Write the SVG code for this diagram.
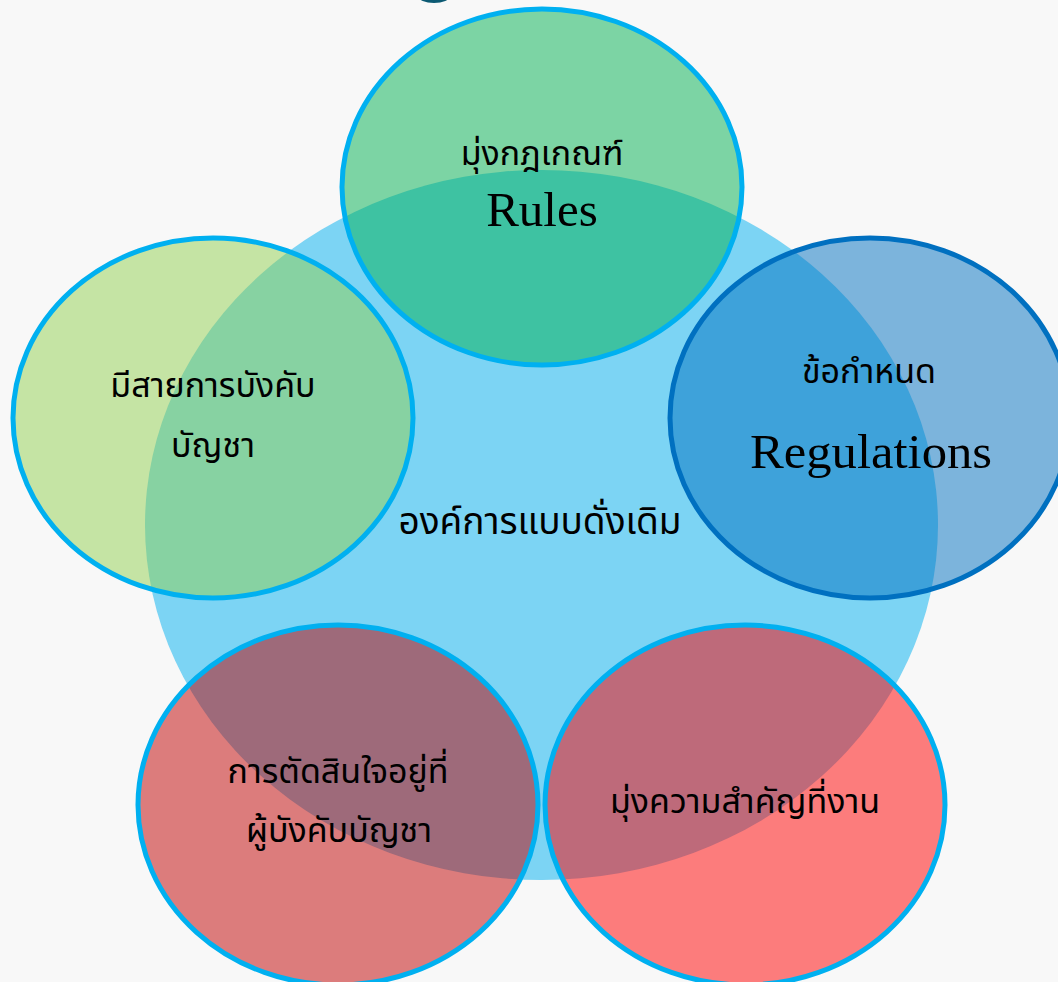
<svg xmlns="http://www.w3.org/2000/svg" width="1058" height="982" viewBox="0 0 1058 982">
<style>
.th{font-family:"Noto Sans Thai","Tahoma","DejaVu Sans","Noto Sans",sans-serif;font-size:34px;fill:#000;text-anchor:middle}
.en{font-family:"Liberation Serif","DejaVu Serif",serif;font-size:49px;fill:#000;text-anchor:middle}
.ring{stroke:#00b0f0;stroke-width:5}
</style>
<rect width="1058" height="982" fill="#f8f8f8"/>
<ellipse cx="434" cy="-4" rx="16" ry="7" fill="#0c5a73"/>
<g id="center">
<ellipse cx="541.5" cy="525" rx="396.5" ry="355" fill="#00b0f0" fill-opacity="0.5"/>
</g>
<g id="top">
<ellipse cx="542" cy="187" rx="200" ry="178" fill="#00b050" fill-opacity="0.5" class="ring"/>
<text class="th" x="542" y="165">มุ่งกฎเกณฑ์</text>
<text class="en" x="542" y="226">Rules</text>
</g>
<g id="left">
<ellipse cx="213" cy="418" rx="200" ry="180" fill="#92d050" fill-opacity="0.5" class="ring"/>
<text class="th" x="213" y="397">มีสายการบังคับ</text>
<text class="th" x="213" y="457">บัญชา</text>
</g>
<g id="right">
<ellipse cx="870" cy="418" rx="200" ry="180" fill="#0070c0" fill-opacity="0.5" stroke="#0070c0" stroke-width="5"/>
<text class="th" x="869" y="383">ข้อกำหนด</text>
<text class="en" x="871" y="468" textLength="242" lengthAdjust="spacingAndGlyphs">Regulations</text>
</g>
<g id="bottom-left">
<ellipse cx="338" cy="805" rx="200" ry="180" fill="#c00000" fill-opacity="0.5" class="ring"/>
<text class="th" x="338" y="783">การตัดสินใจอยู่ที่</text>
<text class="th" x="339" y="842">ผู้บังคับบัญชา</text>
</g>
<g id="bottom-right">
<ellipse cx="745" cy="805" rx="200" ry="180" fill="#ff0000" fill-opacity="0.5" class="ring"/>
<text class="th" x="745" y="813">มุ่งความสำคัญที่งาน</text>
</g>
<g id="center-label">
<text class="th" x="540" y="534" style="font-size:37px">องค์การแบบดั่งเดิม</text>
</g>
<g id="connectors"/>
</svg>
